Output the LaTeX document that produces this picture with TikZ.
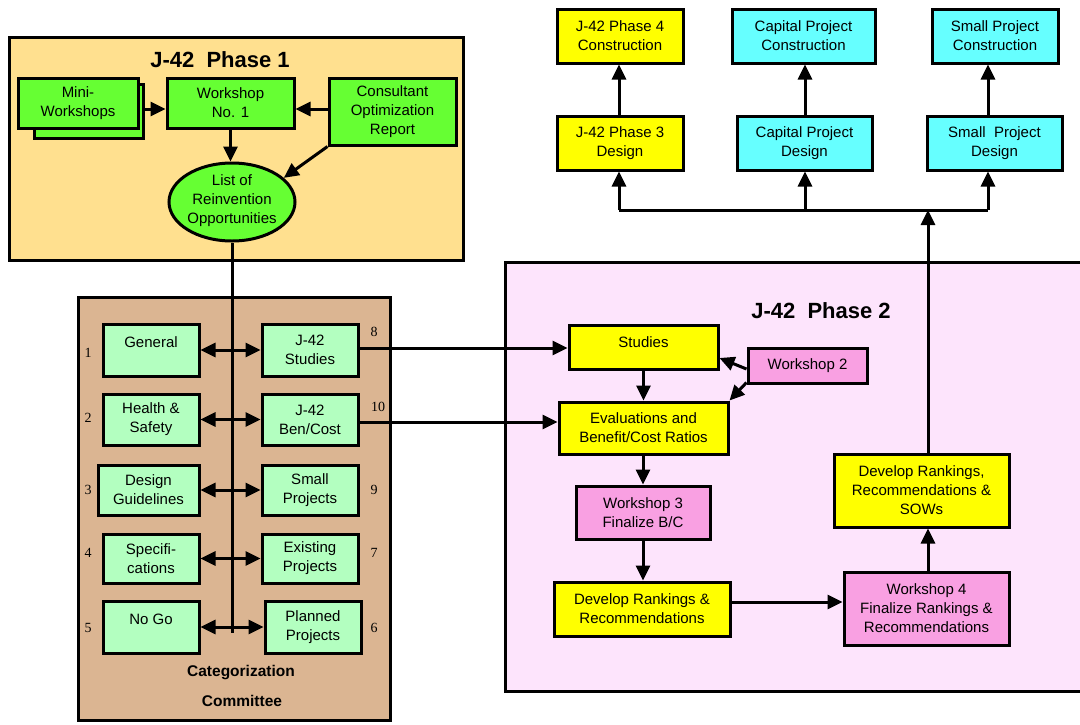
\documentclass[tikz,border=0pt]{standalone}
\usepackage{fontspec}
\setmainfont{Liberation Sans}
\newfontfamily\numfont{Liberation Serif}
\usetikzlibrary{arrows.meta,shapes.geometric}
\definecolor{phaseone}{HTML}{FFE08F}
\definecolor{catbg}{HTML}{DBB592}
\definecolor{phasetwo}{HTML}{FDE4FC}
\definecolor{bgreen}{HTML}{66FF33}
\definecolor{lgreen}{HTML}{B3FFC0}
\definecolor{yel}{HTML}{FFFF00}
\definecolor{cyn}{HTML}{66FFFF}
\definecolor{pnk}{HTML}{F9A0E2}
\begin{document}
\begin{tikzpicture}[x=1pt,y=-1pt,
  every node/.style={inner sep=0pt},
  base/.style={draw=black, line width=3pt, align=center, font=\fontsize{15}{19}\selectfont},
  gbox/.style={base, fill=bgreen},
  lbox/.style={base, fill=lgreen},
  ybox/.style={base, fill=yel},
  cbox/.style={base, fill=cyn},
  pbox/.style={base, fill=pnk},
  frame/.style={draw=black, line width=3pt},
  ttl/.style={font=\fontsize{22}{26}\selectfont\bfseries},
  cattl/.style={font=\fontsize{15.5}{19}\selectfont\bfseries},
  num/.style={font=\numfont\fontsize{14}{16}\selectfont},
  txt/.style={align=center, font=\fontsize{15}{19}\selectfont},
  arr/.style={line width=3pt, -{Triangle[length=15pt,width=14pt]}},
  darr/.style={line width=3pt, {Triangle[length=15pt,width=14pt]}-{Triangle[length=15pt,width=14pt]}},
  plain/.style={line width=3pt},
  upshift/.style={text depth=15pt}
]
\useasboundingbox (0,0) rectangle (1080,724);

% ---------- frames ----------
\node[frame, fill=phaseone, minimum width=454, minimum height=223] (phase1) at (236,148.5) {};
\node[frame, fill=catbg, minimum width=312, minimum height=423] (catframe) at (234,508.5) {};
\node[frame, fill=phasetwo, minimum width=580, minimum height=429] (phase2) at (795,476.5) {};

\node[ttl] (t1) at (220,60) {J-42\ \ Phase 1};
\node[ttl] (t2) at (821,311) {J-42\ \ Phase 2};
\node[cattl] (cat1) at (241,673) {Categorization};
\node[cattl] (cat2) at (242,701) {Committee};

% ---------- phase 1 ----------
\node[gbox, minimum width=109, minimum height=54] (miniback) at (88.5,111) {};
\node[gbox, minimum width=120, minimum height=50] (mini) at (78,103) {Mini-\\Workshops};
\node[gbox, minimum width=127, minimum height=50] (ws1) at (230.5,103) {Workshop\\No. 1};
\node[gbox, minimum width=127, minimum height=67] (consult) at (392.5,111.5) {Consultant\\Optimization\\Report};
\node[ellipse, draw=black, line width=3pt, fill=bgreen, minimum width=126, minimum height=78] (list) at (232,202) {};
\node[txt] (listtxt) at (232,201) {List of\\Reinvention\\Opportunities};

% ---------- categorization ----------
\node[lbox, upshift, minimum width=96, minimum height=52] (general) at (151,350) {General};
\node[lbox, minimum width=96, minimum height=51] (health) at (151,419.5) {Health \&\\Safety};
\node[lbox, minimum width=101, minimum height=50] (design) at (148.5,490) {Design\\Guidelines};
\node[lbox, minimum width=96, minimum height=49] (spec) at (151,558.5) {Specifi-\\cations};
\node[lbox, upshift, minimum width=96, minimum height=52] (nogo) at (151,627) {No Go};
\node[lbox, minimum width=96, minimum height=52] (jstudies) at (310,350) {J-42\\Studies};
\node[lbox, minimum width=96, minimum height=51] (bencost) at (310,419.5) {J-42\\Ben/Cost};
\node[lbox, minimum width=96, minimum height=50] (smallp) at (310,490) {Small\\Projects};
\node[lbox, minimum width=96, minimum height=49] (exist) at (310,558.5) {Existing\\Projects};
\node[lbox, minimum width=96, minimum height=52] (planned) at (313,627) {Planned\\Projects};

\node[num] (n1) at (88,353) {1};
\node[num] (n2) at (88,418) {2};
\node[num] (n3) at (88,490) {3};
\node[num] (n4) at (88,553) {4};
\node[num] (n5) at (88,628) {5};
\node[num] (n8) at (374,332) {8};
\node[num] (n10) at (378,407) {10};
\node[num] (n9) at (374,490) {9};
\node[num] (n7) at (374,553) {7};
\node[num] (n6) at (374,628) {6};

% ---------- phase 2 ----------
\node[ybox, upshift, text depth=10pt, minimum width=149, minimum height=44] (studies) at (643.5,347) {Studies};
\node[pbox, minimum width=119, minimum height=35] (ws2) at (807.5,365.5) {Workshop 2};
\node[ybox, minimum width=169, minimum height=52] (eval) at (643.5,428) {Evaluations and\\Benefit/Cost Ratios};
\node[pbox, minimum width=134, minimum height=53] (ws3) at (643,512.5) {Workshop 3\\Finalize B/C};
\node[ybox, minimum width=176, minimum height=54] (devrank) at (642,609) {Develop Rankings \&\\Recommendations};
\node[pbox, minimum width=165, minimum height=73] (ws4) at (926.5,608.5) {Workshop 4\\Finalize Rankings \&\\Recommendations};
\node[ybox, minimum width=175, minimum height=73] (sows) at (921.5,490.5) {Develop Rankings,\\Recommendations \&\\SOWs};

% ---------- top row ----------
\node[ybox, minimum width=126, minimum height=54] (p3design) at (620,143) {J-42 Phase 3\\Design};
\node[cbox, minimum width=135, minimum height=54] (capdesign) at (804.5,143) {Capital Project\\Design};
\node[cbox, minimum width=135, minimum height=54] (smalldesign) at (994.5,143) {Small\ \ Project\\Design};
\node[ybox, minimum width=126, minimum height=54] (p4con) at (620,36) {J-42 Phase 4\\Construction};
\node[cbox, minimum width=143, minimum height=54] (capcon) at (803.5,36) {Capital Project\\Construction};
\node[cbox, minimum width=126, minimum height=54] (smallcon) at (995,36) {Small Project\\Construction};

% ---------- connectors ----------
\coordinate (catend) at (232,633);
\coordinate (busl) at (619,210);
\coordinate (busm) at (805,210);
\coordinate (busr) at (988,210);
\coordinate (busin) at (928,210);

% phase 1
\draw[arr] ([yshift=2pt]miniback.east) -- ([yshift=2pt]miniback.east -| ws1.west);
\draw[arr] ([yshift=2.5pt]consult.west) -- ([yshift=2.5pt]consult.west -| ws1.east);
\draw[arr] (ws1.south) -- (ws1.south |- list.north);
\draw[arr] (consult.south west) -- (list.25);
\draw[plain] (list.south) -- (catend);

% categorization
\draw[darr] (general.east) -- (jstudies.west);
\draw[darr] (health.east) -- (bencost.west);
\draw[darr] (design.east) -- (smallp.west);
\draw[darr] (spec.east) -- (exist.west);
\draw[darr] (nogo.east) -- (planned.west);

% into phase 2
\draw[arr] ([yshift=2pt]jstudies.east) -- ([yshift=2pt]jstudies.east -| studies.west);
\draw[arr] ([yshift=-2.5pt]bencost.east) -- ([yshift=-2.5pt]bencost.east -| eval.west);

% phase 2
\draw[arr] (studies.south) -- (studies.south |- eval.north);
\draw[arr] ([yshift=-3.5pt]ws2.west) -- ([yshift=-11pt]studies.east);
\draw[arr] ([yshift=2pt]ws2.south west) -- (eval.north east);
\draw[arr] (ws3.north |- eval.south) -- (ws3.north);
\draw[arr] (ws3.south) -- (ws3.south |- devrank.north);
\draw[arr] ([yshift=7pt]devrank.east) -- ([yshift=7pt]devrank.east -| ws4.west);
\draw[arr] (ws4.north -| busin) -- (sows.south -| busin);
\draw[arr] (sows.north -| busin) -- (busin);

% bus and top
\draw[plain] (busl) -- (busr);
\draw[arr] (busl) -- (busl |- p3design.south);
\draw[arr] (busm) -- (busm |- capdesign.south);
\draw[arr] (busr) -- (busr |- smalldesign.south);
\draw[arr] (p3design.north -| busl) -- (p4con.south -| busl);
\draw[arr] (capdesign.north -| busm) -- (capcon.south -| busm);
\draw[arr] (smalldesign.north -| busr) -- (smallcon.south -| busr);
\end{tikzpicture}
\end{document}
